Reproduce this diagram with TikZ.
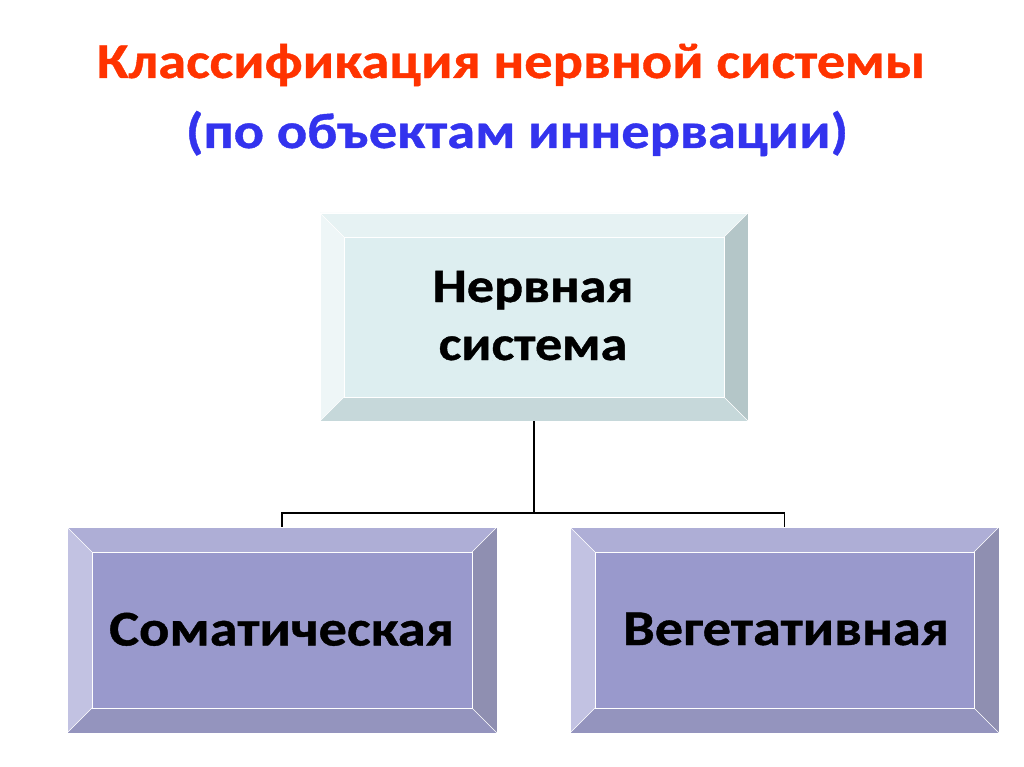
\documentclass[tikz,border=0pt]{standalone}
\usepackage{fontspec}
\setmainfont{Carlito}[FakeStretch=1.13, BoldFeatures={FakeBold=0.8}]
\definecolor{titleorange}{HTML}{FF3300}
\definecolor{titleblue}{HTML}{3333EE}
\definecolor{cface}{HTML}{DDEEF0}
\definecolor{ctop}{HTML}{E6F2F3}
\definecolor{cleft}{HTML}{EEF6F7}
\definecolor{cright}{HTML}{B4C6C8}
\definecolor{cbot}{HTML}{C6D8DA}
\definecolor{pface}{HTML}{9999CC}
\definecolor{ptop}{HTML}{AEAED6}
\definecolor{pleft}{HTML}{C2C2E2}
\definecolor{pright}{HTML}{8F8FB1}
\definecolor{pbot}{HTML}{9494BE}
\tikzset{
  conn/.style={draw=black, line width=1.8pt},
  bevedge/.style={draw=white, line width=0.6pt},
  boxshape/.style={inner sep=0pt, draw=none},
  boxtext/.style={font=\bfseries\fontsize{50}{58}\selectfont, text=black, inner sep=0pt, anchor=base},
  titletext/.style={anchor=base, font=\bfseries\fontsize{50}{60}\selectfont, inner sep=0pt},
}
% #1 name, #2 x1, #3 y1, #4 x2, #5 y2, #6 bevel, #7 face, #8 top, #9 left
\newcommand{\bevbox}[9]{%
  \fill[#8] (#2,#3) -- (#4,#3) -- (#4-#6,#3+#6) -- (#2+#6,#3+#6) -- cycle;
  \fill[#9] (#2,#3) -- (#2+#6,#3+#6) -- (#2+#6,#5-#6) -- (#2,#5) -- cycle;
  \fill[#7] (#2+#6,#3+#6) rectangle (#4-#6,#5-#6);
  \coordinate (#1) at ({(#2+#4)/2},{(#3+#5)/2});
}
% #1 x1 #2 y1 #3 x2 #4 y2 #5 bevel #6 right #7 bottom
\newcommand{\bevrest}[7]{%
  \fill[#6] (#3,#2) -- (#3,#4) -- (#3-#5,#4-#5) -- (#3-#5,#2+#5) -- cycle;
  \fill[#7] (#1,#4) -- (#3,#4) -- (#3-#5,#4-#5) -- (#1+#5,#4-#5) -- cycle;
  \draw[bevedge] (#1+#5,#2+#5) rectangle (#3-#5,#4-#5);
  \draw[bevedge] (#1,#2) -- (#1+#5,#2+#5) (#3,#2) -- (#3-#5,#2+#5)
                 (#1,#4) -- (#1+#5,#4-#5) (#3,#4) -- (#3-#5,#4-#5);
  \draw[bevedge] (#1,#2) rectangle (#3,#4);
}
\begin{document}
\begin{tikzpicture}[x=1pt,y=-1pt]
\useasboundingbox[fill=white] (0,0) rectangle (1024,767);

\node[titletext, text=titleorange] (t1) at (511,78) {Классификация нервной системы};
\node[titletext, text=titleblue] (t2) at (517,148) {(по объектам иннервации)};

% top box
\bevbox{topc}{320}{213}{748}{421}{24}{cface}{ctop}{cleft}
\bevrest{320}{213}{748}{421}{24}{cright}{cbot}
\node[boxshape, minimum width=428pt, minimum height=208pt] (top) at (topc) {};
\node[boxtext, font=\bfseries\fontsize{48}{58}\selectfont] (topl1) at (533,302) {Нервная};
\node[boxtext, font=\bfseries\fontsize{48}{58}\selectfont] (topl2) at (533,360) {система};

% left box
\bevbox{somc}{67}{527}{497}{733}{25}{pface}{ptop}{pleft}
\bevrest{67}{527}{497}{733}{25}{pright}{pbot}
\node[boxshape, minimum width=430pt, minimum height=206pt] (som) at (somc) {};
\node[boxtext] (soml) at (281.5,645.5) {Соматическая};

% right box
\bevbox{vegc}{570}{527}{999}{733}{25}{pface}{ptop}{pleft}
\bevrest{570}{527}{999}{733}{25}{pright}{pbot}
\node[boxshape, minimum width=429pt, minimum height=206pt] (veg) at (vegc) {};
\node[boxtext] (vegl) at (786,645) {Вегетативная};

\coordinate (j) at (534,513);
\draw[conn] (top.south) -- (j);
\draw[conn] (som.north) |- (j) -| (veg.north);
\end{tikzpicture}
\end{document}
